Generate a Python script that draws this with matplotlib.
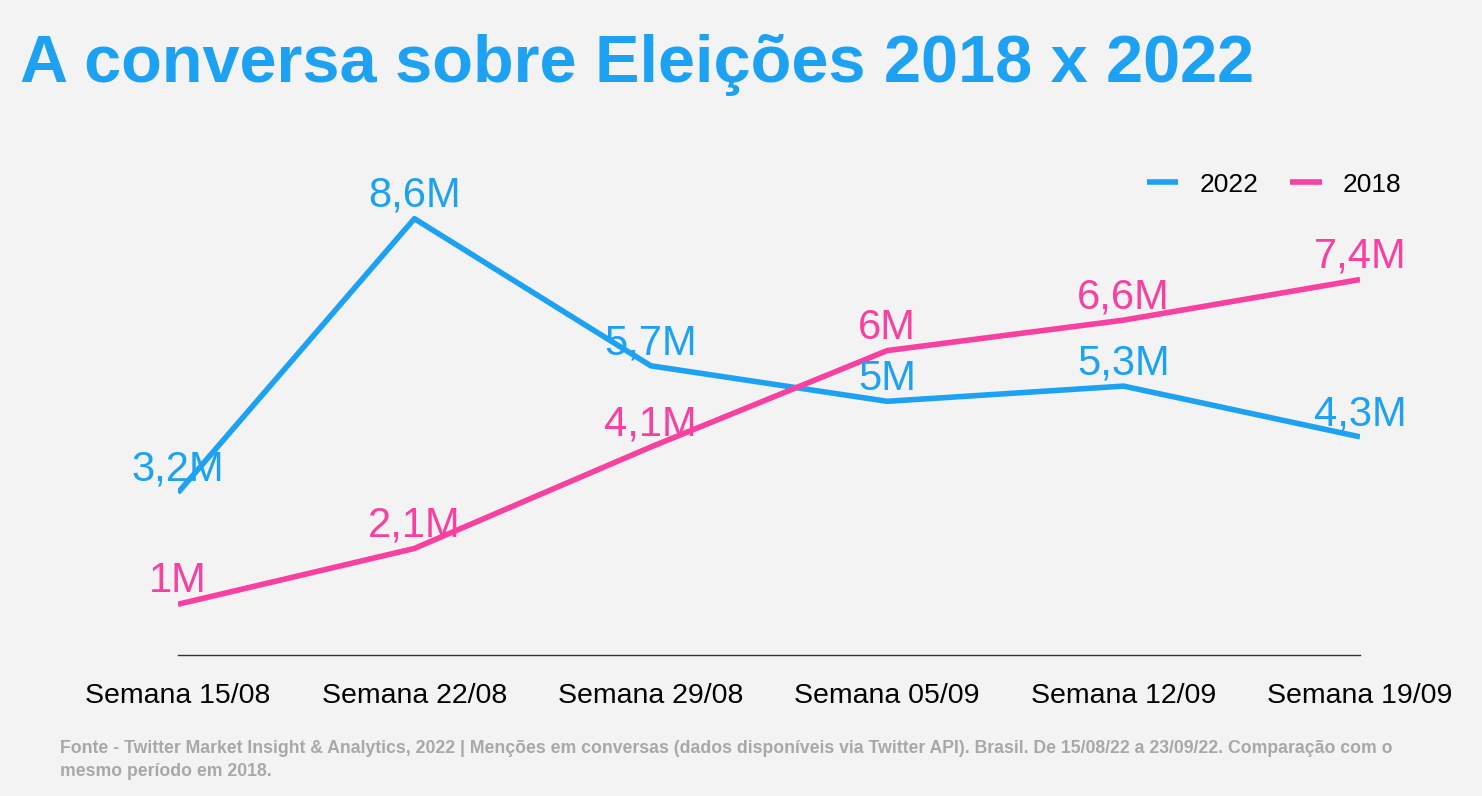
import matplotlib.pyplot as plt

plt.rcParams['font.family'] = ['Liberation Sans', 'DejaVu Sans']

weeks = ['Semana 15/08', 'Semana 22/08', 'Semana 29/08', 'Semana 05/09', 'Semana 12/09', 'Semana 19/09']
v2022 = [3.2, 8.6, 5.7, 5.0, 5.3, 4.3]
v2018 = [1.0, 2.1, 4.1, 6.0, 6.6, 7.4]
lab2022 = ['3,2M', '8,6M', '5,7M', '5M', '5,3M', '4,3M']
lab2018 = ['1M', '2,1M', '4,1M', '6M', '6,6M', '7,4M']

BLUE = '#1da1f2'
PINK = '#f7409f'

fig = plt.figure(figsize=(14.82, 7.96), dpi=100, facecolor='#f3f3f3')
ax = fig.add_axes([178 / 1482, 1 - 655 / 796, (1360 - 178) / 1482, 482 / 796])
ax.set_facecolor('none')
x = list(range(len(weeks)))
ax.plot(x, v2022, color=BLUE, lw=4, label='2022', solid_capstyle='butt')
ax.plot(x, v2018, color=PINK, lw=4, label='2018', solid_capstyle='butt')
for xi, v, t in zip(x, v2022, lab2022):
    ax.annotate(t, (xi, v), xytext=(0, 2), textcoords='offset points',
                ha='center', va='bottom', color=BLUE, fontsize=30)
for xi, v, t in zip(x, v2018, lab2018):
    ax.annotate(t, (xi, v), xytext=(0, 2), textcoords='offset points',
                ha='center', va='bottom', color=PINK, fontsize=30)

ax.set_xlim(0, 5)
ax.set_ylim(0, 9.5)
ax.set_yticks([])
ax.set_xticks(x)
ax.set_xticklabels(weeks, fontsize=20.5)
ax.tick_params(axis='x', length=0, pad=20)
for s in ('top', 'right', 'left'):
    ax.spines[s].set_visible(False)
ax.spines['bottom'].set_color('#333333')
ax.spines['bottom'].set_linewidth(1)

leg = ax.legend(loc='upper right', bbox_to_anchor=(1.055, 1.05), ncol=2, frameon=False,
                fontsize=19, handlelength=1.2, columnspacing=1.2)

fig.text(20 / 1482, 1 - 65 / 796, 'A conversa sobre Eleições 2018 x 2022', color=BLUE,
         fontsize=48, fontweight='bold', va='center')
fig.text(60 / 1482, 1 - 760 / 796,
         'Fonte - Twitter Market Insight & Analytics, 2022 | Menções em conversas (dados disponíveis via Twitter API). Brasil. De 15/08/22 a 23/09/22. Comparação com o\nmesmo período em 2018.',
         color='#a8a8a8', fontsize=12.7, fontweight='bold', va='center', linespacing=1.5)

fig.savefig('out.png', dpi=100, facecolor=fig.get_facecolor())
